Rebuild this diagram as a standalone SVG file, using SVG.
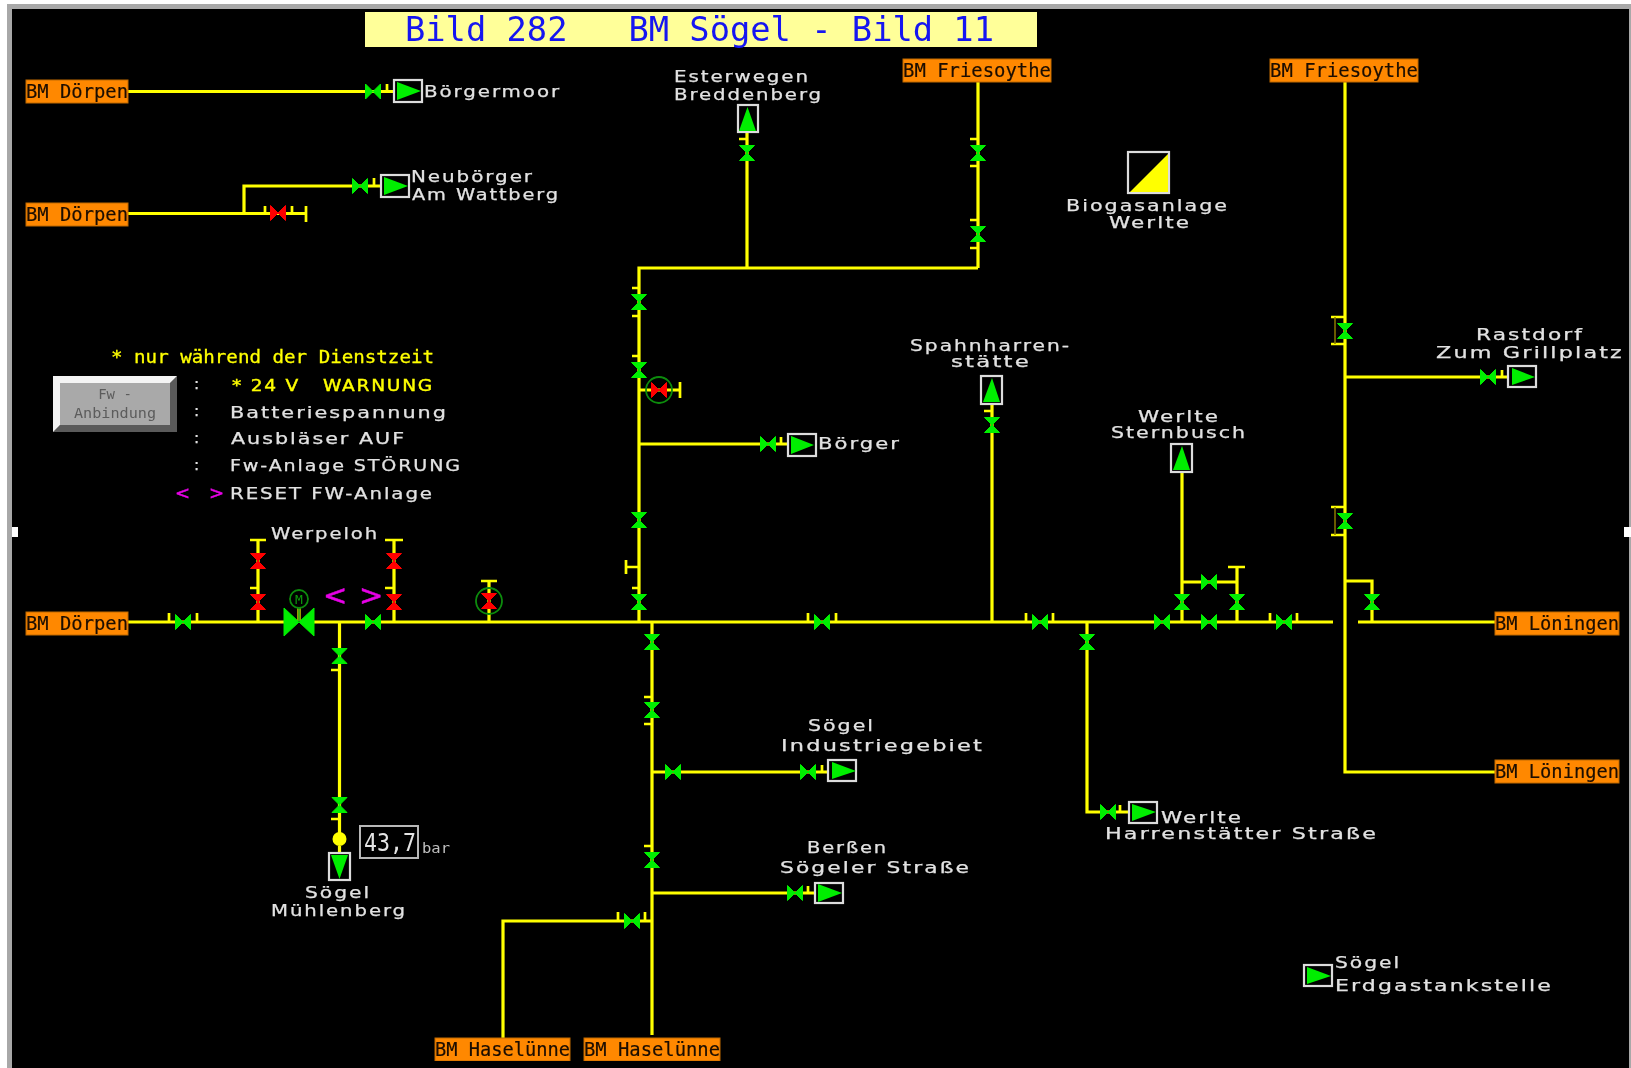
<svg xmlns="http://www.w3.org/2000/svg" width="1631" height="1068" viewBox="0 0 1631 1068">
<style>
text{white-space:pre}
.pipe{fill:none;stroke:#ffff00;stroke-width:3.2}
.tick{fill:none;stroke:#ffff00;stroke-width:2.7}
.dim{fill:none;stroke:#8a7a00;stroke-width:1.5}
.lbl{font-family:"DejaVu Sans",sans-serif;font-size:15.5px;fill:#e2e2e2;stroke:#e2e2e2;stroke-width:.25;letter-spacing:1.5px}
.yl{font-family:"DejaVu Sans Mono",monospace;font-size:18.5px;fill:#ffff00;stroke:#ffff00;stroke-width:.3}
.yw{font-family:"DejaVu Sans",sans-serif;font-size:16px;fill:#ffff00;stroke:#ffff00;stroke-width:.4;letter-spacing:1.5px}
.term rect{fill:#ff8800;stroke:#c06800;stroke-width:1}
.term text{font-family:"DejaVu Sans Mono",monospace;font-size:20px;fill:#1c0e00;stroke:#1c0e00;stroke-width:.2}
.box{fill:#000;stroke:#dcdcdc;stroke-width:2.2}
.tri{fill:#00ee00}
.g{fill:#00ee00;stroke:#00ee00;stroke-width:1}
.r{fill:#ff0000;stroke:#ff0000;stroke-width:1}
.ring{fill:none;stroke:#0a8a0a;stroke-width:1.8}
.mag{font-family:"DejaVu Sans",sans-serif;fill:#e800e8;stroke:#e800e8;stroke-width:.5}
</style>
<defs>
<path id="vh" d="M-7.500-7.500L0 0L-7.500 7.500ZM7.500-7.500L0 0L7.500 7.500Z"/>
<path id="vv" d="M-7.500-7.500L7.500-7.500L0 0ZM-7.500 7.500L7.500 7.500L0 0Z"/>
<filter id="soft" x="0" y="0" width="100%" height="100%"><feGaussianBlur stdDeviation="0.45"/></filter>
</defs>
<rect width="1631" height="1068" fill="#ffffff"/>
<rect x="7" y="4" width="1624" height="1064" fill="#a8a8a8"/>
<rect x="12" y="9" width="1617" height="1059" fill="#000000"/>
<g filter="url(#soft)">
<g id="frame-handles">
<rect x="12" y="527" width="6" height="10" fill="#fff"/>
<rect x="1624" y="527" width="7" height="10" fill="#fff"/>
</g>
<g id="title">
<rect x="365" y="12" width="672" height="35" fill="#ffff99"/>
<text x="405" y="41" font-family="'DejaVu Sans Mono',monospace" font-size="33" fill="#1414f0" textLength="589" lengthAdjust="spacingAndGlyphs">Bild 282   BM Sögel - Bild 11</text>
</g>
<g id="connectors">
<path class="pipe" d="M128 91.500H393M128 213.500H306M244 213.500V186H380M128 622H284M313 622H1333M1358 622H1495M258 622V540M394 622V540M299 608V622M489 622V581M339.500 622V839M339.500 846V853"/>
<path class="pipe" d="M639 622V268H978M978 82V268M747 132V268M639 390H680M639 444H787M652 622V1035M652 772H827M652 893H815M652 921H503V1038"/>
<path class="pipe" d="M992 404V622M1087 622V812H1128M1182 472V622M1182 582H1237M1237 622V567M1345 82V772H1495M1345 377H1507M1345 581H1372V622"/>
<path class="tick" d="M250 540H266M385 540H403M481 581H497M1228 567H1245M680 382V398M306 206V222M626 560V574M626 567H639M250 588H258M385 588H394"/>
<path class="tick" d="M387 84V91M374 178V186M265 206V213M292 206V213M169 613V622M197 613V622M331 670H339M331 819H339"/>
<path class="tick" d="M632 288H639M632 316H639M632 356H639M632 588H639M781 437V444M808 613V622M836 613V622M644 697H652M644 724H652M644 846H652M822 765V772M808 886V893M618 912V921M645 912V921"/>
<path class="tick" d="M970 139H978M970 166H978M970 220H978M970 248H978M739 139H747M984 411H992M1026 613V622M1053 613V622M1270 613V622M1297 613V622M1331 317H1345M1331 344H1345M1331 507H1345M1331 535H1345M1502 370V377M1120 805V812"/>
<path class="dim" d="M1335 317V344M1335 507V535"/>
</g>
<g id="valves">
<g class="g">
<use href="#vh" x="373" y="91.500"/><use href="#vh" x="360" y="186"/><use href="#vh" x="183" y="622"/><use href="#vh" x="373" y="622"/>
<use href="#vv" x="339.500" y="656"/><use href="#vv" x="339.500" y="805"/>
<use href="#vv" x="639" y="302"/><use href="#vv" x="639" y="370"/><use href="#vv" x="639" y="520"/><use href="#vv" x="639" y="602"/>
<use href="#vh" x="768" y="444"/><use href="#vh" x="822" y="622"/>
<use href="#vv" x="652" y="642"/><use href="#vv" x="652" y="710"/><use href="#vv" x="652" y="860"/>
<use href="#vh" x="673" y="772"/><use href="#vh" x="808" y="772"/><use href="#vh" x="795" y="893"/><use href="#vh" x="632" y="921"/>
<use href="#vv" x="747" y="153"/><use href="#vv" x="978" y="153"/><use href="#vv" x="978" y="234"/><use href="#vv" x="992" y="425"/>
<use href="#vh" x="1040" y="622"/><use href="#vv" x="1087" y="642"/><use href="#vh" x="1108" y="812"/>
<use href="#vh" x="1162" y="622"/><use href="#vh" x="1209" y="622"/><use href="#vh" x="1284" y="622"/><use href="#vh" x="1209" y="582"/>
<use href="#vv" x="1182" y="602"/><use href="#vv" x="1237" y="602"/>
<use href="#vv" x="1345" y="331"/><use href="#vv" x="1345" y="521"/><use href="#vv" x="1372" y="602"/><use href="#vh" x="1488" y="377"/>
</g>
<g class="r">
<use href="#vh" x="278" y="213"/><use href="#vv" x="258" y="561"/><use href="#vv" x="258" y="602"/><use href="#vv" x="394" y="561"/><use href="#vv" x="394" y="602"/><use href="#vv" x="489" y="601"/><use href="#vh" x="659" y="390"/>
</g>
<circle class="ring" cx="489" cy="601" r="13"/>
<circle class="ring" cx="659" cy="390" r="13"/>
</g>
<g id="motor-valve">
<path class="g" d="M284 608L299 622L284 636ZM314 608L299 622L314 636Z"/>
<path d="M299 608V622" stroke="#0a8a0a" stroke-width="1.5"/>
<circle class="ring" cx="299" cy="599" r="9"/>
<text x="299" y="604" text-anchor="middle" font-family="'DejaVu Sans Mono',monospace" font-size="13" fill="#0a9a0a">M</text>
</g>
<g id="reset-marks">
<text class="mag" x="323" y="605" font-size="29">&lt;</text>
<text class="mag" x="359" y="605" font-size="29">&gt;</text>
</g>
<g id="term-doerpen-1" class="term"><rect x="26" y="80" width="102" height="23"/><text x="26" y="98" textLength="102" lengthAdjust="spacingAndGlyphs">BM Dörpen</text></g>
<g id="term-doerpen-2" class="term"><rect x="26" y="203" width="102" height="23"/><text x="26" y="221" textLength="102" lengthAdjust="spacingAndGlyphs">BM Dörpen</text></g>
<g id="term-doerpen-3" class="term"><rect x="26" y="612" width="102" height="23"/><text x="26" y="630" textLength="102" lengthAdjust="spacingAndGlyphs">BM Dörpen</text></g>
<g id="term-friesoythe-1" class="term"><rect x="903" y="59" width="148" height="23"/><text x="903" y="77" textLength="148" lengthAdjust="spacingAndGlyphs">BM Friesoythe</text></g>
<g id="term-friesoythe-2" class="term"><rect x="1270" y="59" width="148" height="23"/><text x="1270" y="77" textLength="148" lengthAdjust="spacingAndGlyphs">BM Friesoythe</text></g>
<g id="term-loeningen-1" class="term"><rect x="1495" y="612" width="124" height="23"/><text x="1495" y="630" textLength="124" lengthAdjust="spacingAndGlyphs">BM Löningen</text></g>
<g id="term-loeningen-2" class="term"><rect x="1495" y="760" width="124" height="23"/><text x="1495" y="778" textLength="124" lengthAdjust="spacingAndGlyphs">BM Löningen</text></g>
<g id="term-haseluenne-1" class="term"><rect x="435" y="1038" width="135" height="23"/><text x="435" y="1056" textLength="135" lengthAdjust="spacingAndGlyphs">BM Haselünne</text></g>
<g id="term-haseluenne-2" class="term"><rect x="584" y="1038" width="136" height="23"/><text x="584" y="1056" textLength="136" lengthAdjust="spacingAndGlyphs">BM Haselünne</text></g>
<g id="st-boergermoor"><rect class="box" x="394" y="80" width="28" height="22"/><path class="tri" d="M397 82V100L421 91Z"/><text class="lbl" x="424" y="97" textLength="137" lengthAdjust="spacingAndGlyphs">Börgermoor</text></g>
<g id="st-neuboerger"><rect class="box" x="381" y="175" width="28" height="22"/><path class="tri" d="M384 177V195L408 186Z"/><text class="lbl" x="411" y="182" textLength="123" lengthAdjust="spacingAndGlyphs">Neubörger</text><text class="lbl" x="412" y="200" textLength="148" lengthAdjust="spacingAndGlyphs">Am Wattberg</text></g>
<g id="st-esterwegen"><rect class="box" x="738" y="105" width="20" height="27"/><path class="tri" d="M739 131H756L747.500 107Z"/><text class="lbl" x="674" y="82" textLength="136" lengthAdjust="spacingAndGlyphs">Esterwegen</text><text class="lbl" x="674" y="100" textLength="149" lengthAdjust="spacingAndGlyphs">Breddenberg</text></g>
<g id="st-biogas"><rect class="box" x="1128" y="152" width="41" height="41"/><path d="M1130 192H1168V154Z" fill="#ffff00"/><text class="lbl" x="1066" y="211" textLength="163" lengthAdjust="spacingAndGlyphs">Biogasanlage</text><text class="lbl" x="1109" y="228" textLength="82" lengthAdjust="spacingAndGlyphs">Werlte</text></g>
<g id="st-spahnharren"><rect class="box" x="981" y="376" width="21" height="28"/><path class="tri" d="M983 402H1000L992 378Z"/><text class="lbl" x="910" y="351" textLength="161" lengthAdjust="spacingAndGlyphs">Spahnharren-</text><text class="lbl" x="951" y="367" textLength="80" lengthAdjust="spacingAndGlyphs">stätte</text></g>
<g id="st-sternbusch"><rect class="box" x="1171" y="444" width="21" height="28"/><path class="tri" d="M1173 470H1190L1182 446Z"/><text class="lbl" x="1138" y="422" textLength="82" lengthAdjust="spacingAndGlyphs">Werlte</text><text class="lbl" x="1111" y="438" textLength="136" lengthAdjust="spacingAndGlyphs">Sternbusch</text></g>
<g id="st-rastdorf"><rect class="box" x="1508" y="366" width="28" height="21"/><path class="tri" d="M1512 368V385L1535 377Z"/><text class="lbl" x="1476" y="340" textLength="108" lengthAdjust="spacingAndGlyphs">Rastdorf</text><text class="lbl" x="1436" y="358" textLength="188" lengthAdjust="spacingAndGlyphs">Zum Grillplatz</text></g>
<g id="st-boerger"><rect class="box" x="788" y="434" width="28" height="22"/><path class="tri" d="M791 436V454L814 445Z"/><text class="lbl" x="818" y="449" textLength="83" lengthAdjust="spacingAndGlyphs">Börger</text></g>
<g id="st-industriegebiet"><rect class="box" x="828" y="760" width="28" height="21"/><path class="tri" d="M832 762V779L856 771Z"/><text class="lbl" x="808" y="731" textLength="67" lengthAdjust="spacingAndGlyphs">Sögel</text><text class="lbl" x="781" y="751" textLength="203" lengthAdjust="spacingAndGlyphs">Industriegebiet</text></g>
<g id="st-berssen"><rect class="box" x="815" y="883" width="28" height="20"/><path class="tri" d="M818 884V902L842 893Z"/><text class="lbl" x="807" y="853" textLength="81" lengthAdjust="spacingAndGlyphs">Berßen</text><text class="lbl" x="780" y="873" textLength="191" lengthAdjust="spacingAndGlyphs">Sögeler Straße</text></g>
<g id="st-harrenstaetter"><rect class="box" x="1129" y="802" width="28" height="21"/><path class="tri" d="M1132 804V821L1156 812Z"/><text class="lbl" x="1161" y="823" textLength="82" lengthAdjust="spacingAndGlyphs">Werlte</text><text class="lbl" x="1105" y="839" textLength="273" lengthAdjust="spacingAndGlyphs">Harrenstätter Straße</text></g>
<g id="st-erdgas"><rect class="box" x="1304" y="965" width="28" height="21"/><path class="tri" d="M1307 967V984L1331 976Z"/><text class="lbl" x="1335" y="968" textLength="66" lengthAdjust="spacingAndGlyphs">Sögel</text><text class="lbl" x="1335" y="991" textLength="218" lengthAdjust="spacingAndGlyphs">Erdgastankstelle</text></g>
<g id="st-muehlenberg"><rect class="box" x="329" y="853" width="21" height="27"/><path class="tri" d="M331 855H348L339.500 879Z"/><circle cx="339.500" cy="839" r="7" fill="#ffff00"/><text class="lbl" x="305" y="898" textLength="66" lengthAdjust="spacingAndGlyphs">Sögel</text><text class="lbl" x="271" y="916" textLength="136" lengthAdjust="spacingAndGlyphs">Mühlenberg</text></g>
<g id="pressure"><rect x="360" y="826" width="58" height="32" fill="#000" stroke="#b8b8b8" stroke-width="2"/><text x="364" y="851" font-family="'DejaVu Sans Mono',monospace" font-size="24" fill="#e4e4e4" textLength="52" lengthAdjust="spacingAndGlyphs">43,7</text><text x="422" y="853" font-family="'DejaVu Sans Mono',monospace" font-size="14" fill="#c0c0c0" textLength="28" lengthAdjust="spacingAndGlyphs">bar</text></g>
<g id="werpeloh"><text class="lbl" x="271" y="539" textLength="108" lengthAdjust="spacingAndGlyphs">Werpeloh</text></g>
<g id="fw-button">
<rect x="53" y="376" width="124" height="56" fill="#a9a9a9"/>
<path d="M53 376H177L170 383H60V425L53 432Z" fill="#f4f4f4"/>
<path d="M177 376V432H53L60 425H170V383Z" fill="#5a5a5a"/>
<text x="115" y="399" text-anchor="middle" font-family="'DejaVu Sans Mono',monospace" font-size="14" fill="#5c5c5c">Fw -</text>
<text x="74" y="418" font-family="'DejaVu Sans Mono',monospace" font-size="14" fill="#5c5c5c" textLength="82" lengthAdjust="spacingAndGlyphs">Anbindung</text>
</g>
<g id="legend">
<text class="yl" x="111" y="363" textLength="323" lengthAdjust="spacingAndGlyphs">* nur während der Dienstzeit</text>
<text class="yw" x="232" y="391" textLength="202" lengthAdjust="spacingAndGlyphs">* 24 V   WARNUNG</text>
<text class="lbl" x="194" y="389">:</text><text class="lbl" x="194" y="416">:</text><text class="lbl" x="194" y="443">:</text><text class="lbl" x="194" y="470">:</text>
<text class="lbl" x="230" y="418" textLength="218" lengthAdjust="spacingAndGlyphs">Batteriespannung</text>
<text class="lbl" x="231" y="444" textLength="175" lengthAdjust="spacingAndGlyphs">Ausbläser AUF</text>
<text class="lbl" x="230" y="471" textLength="232" lengthAdjust="spacingAndGlyphs">Fw-Anlage STÖRUNG</text>
<text class="lbl" x="230" y="499" textLength="204" lengthAdjust="spacingAndGlyphs">RESET FW-Anlage</text>
<text class="mag" x="175" y="499" font-size="18">&lt;</text>
<text class="mag" x="209" y="499" font-size="18">&gt;</text>
</g>
</g>
</svg>
